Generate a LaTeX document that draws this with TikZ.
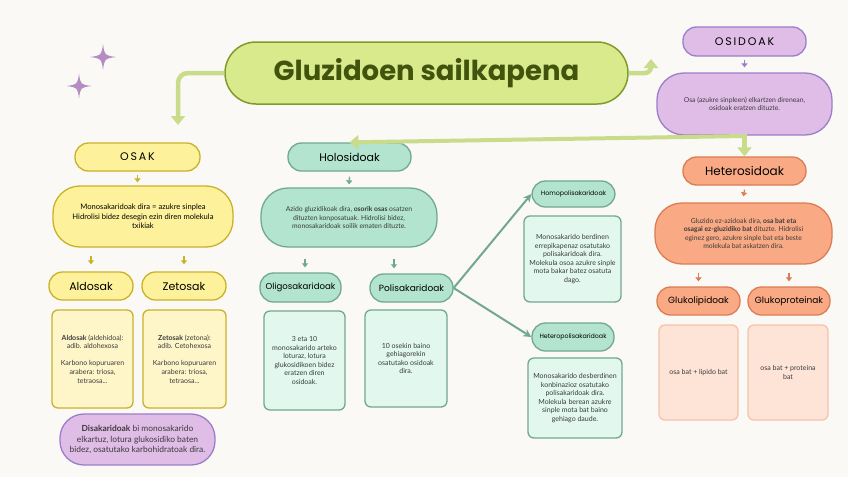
\documentclass[tikz,border=0pt]{standalone}
\usepackage{fontspec}
\setmainfont{Lato}
\newfontfamily\headfont{Poppins}
\usetikzlibrary{arrows.meta}
\definecolor{bgc}{HTML}{FAF9F5}
\definecolor{titlefill}{HTML}{D9EA8C}
\definecolor{titledraw}{HTML}{7F9B2A}
\definecolor{titletext}{HTML}{41530C}
\definecolor{garrc}{HTML}{C8DC8C}
\definecolor{lavfill}{HTML}{E0BDE6}
\definecolor{lavdraw}{HTML}{9A7ECB}
\definecolor{salfill}{HTML}{F9AA84}
\definecolor{saldraw}{HTML}{DB7C52}
\definecolor{peachfill}{HTML}{FEE4D7}
\definecolor{peachdraw}{HTML}{F6C3A8}
\definecolor{yelfill}{HTML}{FDF29B}
\definecolor{yeldraw}{HTML}{C9B12A}
\definecolor{ylboxfill}{HTML}{FEF6C9}
\definecolor{mintfill}{HTML}{B2E4D0}
\definecolor{mintdraw}{HTML}{72A793}
\definecolor{mintboxfill}{HTML}{E2F8EF}
\definecolor{starc}{HTML}{B58CC4}
\definecolor{bodytext}{HTML}{3A3A3A}
\tikzset{
  base/.style={inner sep=2pt, align=center, text=bodytext},
  pillhead/.style={base, line width=1.3pt, font=\headfont\fontsize{11}{13}\selectfont, text=black, rounded corners=13.5pt, minimum height=28pt},
  pilldesc/.style={base, line width=1.3pt, font=\fontsize{6.8}{8.5}\selectfont, rounded corners=27pt},
  boxc/.style={base, line width=1.3pt, font=\fontsize{7}{8.6}\selectfont, rounded corners=6pt},
  ypill/.style={fill=yelfill, draw=yeldraw},
  ybox/.style={fill=ylboxfill, draw=yeldraw},
  lpill/.style={fill=lavfill, draw=lavdraw},
  spill/.style={fill=salfill, draw=saldraw},
  pbox/.style={fill=peachfill, draw=peachdraw},
  mpill/.style={fill=mintfill, draw=mintdraw},
  mbox/.style={fill=mintboxfill, draw=mintdraw},
  garr/.style={draw=garrc, line width=4.5pt, -{Triangle[width=14pt,length=9pt]}},
  smallarr/.style={line width=1.3pt, -{Triangle[width=6pt,length=4pt]}},
  marr/.style={draw=mintdraw, line width=2pt, -{Stealth[width=8pt,length=8pt]}},
  sparkle/.pic={\fill[starc] (0,-1) .. controls (0.12,-0.12) .. (1,0) .. controls (0.12,0.12) .. (0,1) .. controls (-0.12,0.12) .. (-1,0) .. controls (-0.12,-0.12) .. cycle;}
}
\begin{document}
\begin{tikzpicture}[x=1pt,y=-1pt]
\fill[bgc] (0,0) rectangle (848,477);
\useasboundingbox (0,0) rectangle (848,477);

\pic[scale=13] at (103,57) {sparkle};
\pic[scale=12.5] at (79,86) {sparkle};

% title
\node[base, fill=titlefill, draw=titledraw, line width=1.5pt, rounded corners=31pt, minimum width=403pt, minimum height=62pt, font=\headfont\bfseries\fontsize{27.5}{30}\selectfont, text=titletext] (title) at (426.5,73) {Gluzidoen sailkapena};

% right column
\node[pillhead, lpill, minimum width=123pt, minimum height=29pt, font=\headfont\fontsize{11}{13}\selectfont] (osidoak) at (744.5,41.5) {O\,S\,I\,D\,O\,A\,K};
\node[pilldesc, lpill, minimum width=175pt, minimum height=62pt] (osdesc) at (744.5,104) {Osa (azukre sinpleen) elkartzen direnean,\\osidoak eratzen dituzte.};
\node[pillhead, spill, minimum width=123pt, font=\headfont\fontsize{12}{14}\selectfont] (hetero) at (744.5,171) {Heterosidoak};
\node[pilldesc, spill, minimum width=177pt, minimum height=61pt] (hetdesc) at (743.5,233.5) {Gluzido ez-azidoak dira, \textbf{osa bat eta}\\\textbf{osagai ez-gluzidiko bat} dituzte. Hidrolisi\\eginez gero, azukre sinple bat eta beste\\molekula bat askatzen dira.};
\node[pillhead, spill, minimum width=83pt, font=\headfont\fontsize{9}{11}\selectfont] (glk1) at (698.5,301) {Glukolipidoak};
\node[pillhead, spill, minimum width=82pt, font=\headfont\fontsize{9}{11}\selectfont] (glk2) at (789,301) {Glukoproteinak};
\node[boxc, pbox, minimum width=79pt, minimum height=95pt] (gbox1) at (698.5,372.5) {osa bat + lipido bat};
\node[boxc, pbox, minimum width=80pt, minimum height=95pt] (gbox2) at (788,372.5) {osa bat + proteina\\bat};

% left column
\node[pillhead, ypill, minimum width=125pt, font=\headfont\fontsize{11}{13}\selectfont] (osak) at (137.5,157) {O\,S\,A\,K};
\node[pilldesc, ypill, minimum width=180pt, minimum height=61pt, font=\fontsize{7.6}{9.4}\selectfont, text=black] (osakdesc) at (143,216.5) {Monosakaridoak dira = azukre sinplea\\Hidrolisi bidez desegin ezin diren molekula\\txikiak};
\node[pillhead, ypill, minimum width=84pt] (aldosak) at (91,286) {Aldosak};
\node[pillhead, ypill, minimum width=84pt] (zetosak) at (184,286) {Zetosak};
\node[boxc, ybox, minimum width=81pt, minimum height=98pt] (abox) at (92.5,359) {\textbf{Aldosak} (aldehidoa):\\adib. aldohexosa\\[8.6pt]Karbono kopuruaren\\arabera: triosa,\\tetraosa...};
\node[boxc, ybox, minimum width=83pt, minimum height=98pt] (zbox) at (184.5,359) {\textbf{Zetosak} (zetona):\\adib. Cetohexosa\\[8.6pt]Karbono kopuruaren\\arabera: triosa,\\tetraosa...};
\node[pilldesc, lpill, minimum width=155pt, minimum height=51pt, rounded corners=24pt, font=\fontsize{8.4}{10.2}\selectfont] (disak) at (137.5,439.5) {\textbf{Disakaridoak} bi monosakarido\\elkartuz, lotura glukosidiko baten\\bidez, osatutako karbohidratoak dira.};

% middle column
\node[pillhead, mpill, minimum width=123pt, font=\headfont\fontsize{11}{13}\selectfont] (holo) at (349.5,157) {Holosidoak};
\node[pilldesc, mpill, minimum width=176pt, minimum height=59pt] (holodesc) at (349,217.5) {Azido gluzidikoak dira, \textbf{osorik osas} osatzen\\dituzten konposatuak. Hidrolisi bidez,\\monosakaridoak soilik ematen dituzte.};
\node[pillhead, mpill, minimum width=81pt, minimum height=29pt, font=\headfont\fontsize{8.6}{10}\selectfont] (oligo) at (300.5,287.5) {Oligosakaridoak};
\node[pillhead, mpill, minimum width=83pt, font=\headfont\fontsize{9}{11}\selectfont] (poli) at (411.5,288) {Polisakaridoak};
\node[boxc, mbox, minimum width=81pt, minimum height=99pt] (obox) at (304.5,360.5) {3 eta 10\\monosakarido arteko\\loturaz, lotura\\glukosidikoen bidez\\eratzen diren\\osidoak.};
\node[boxc, mbox, minimum width=82pt, minimum height=97pt] (pbox) at (406,358.5) {10 osekin baino\\gehiagorekin\\osatutako osidoak\\dira.};
\node[pillhead, mpill, minimum width=83pt, minimum height=26pt, font=\headfont\fontsize{6.3}{8}\selectfont] (homo) at (573.5,194) {Homopolisakaridoak};
\node[boxc, mbox, minimum width=97pt, minimum height=86pt] (homobox) at (572.5,259) {Monosakarido berdinen\\errepikapenaz osatutako\\polisakaridoak dira.\\Molekula osoa azukre sinple\\mota bakar batez osatuta\\dago.};
\node[pillhead, mpill, minimum width=82pt, font=\headfont\fontsize{6.3}{8}\selectfont] (hetp) at (573,337) {Heteropolisakaridoak};
\node[boxc, mbox, minimum width=94pt, minimum height=80pt] (hetpbox) at (575,398) {Monosakarido desberdinen\\konbinazioz osatutako\\polisakaridoak dira.\\Molekula berean azukre\\sinple mota bat baino\\gehiago daude.};

% big green connectors
\coordinate (osakin) at (178,125);
\coordinate (upend) at (651,59);
\coordinate (J) at (745,136);
\draw[garr, rounded corners=10pt] (title.west) -| (osakin);
\draw[garr, rounded corners=6pt] (title.east) -| (upend);
\draw[garr, line width=4pt] (J) -- (holo.north);
\draw[garr, shorten <=-2pt] (osdesc.south) -- (hetero.north);

% small arrows
\draw[smallarr, draw=lavdraw] (osidoak.south) ++(0,-3pt) -- ([yshift=5pt]osdesc.north);
\draw[smallarr, draw=saldraw] ([yshift=-4pt]hetero.south) -- ([yshift=6pt]hetdesc.north);
\draw[smallarr, draw=saldraw] ([yshift=-8pt]hetdesc.south -| glk1.north) -- ([yshift=5pt]glk1.north);
\draw[smallarr, draw=saldraw] ([yshift=-8pt]hetdesc.south -| glk2.north) -- ([yshift=5pt]glk2.north);
\draw[smallarr, draw=yeldraw] ([yshift=-3pt]osak.south) -- ([yshift=3pt]osakdesc.north -| osak.south);
\draw[smallarr, draw=yeldraw] ([yshift=-8pt]osakdesc.south -| aldosak.north) -- ([yshift=7pt]aldosak.north);
\draw[smallarr, draw=yeldraw] ([yshift=-8pt]osakdesc.south -| zetosak.north) -- ([yshift=7pt]zetosak.north);
\draw[smallarr, draw=mintdraw] ([yshift=-5pt]holo.south) -- ([yshift=3pt]holodesc.north);
\draw[smallarr, draw=mintdraw] ([yshift=-11pt]holodesc.south -| 305,0) -- ([yshift=5pt]oligo.north -| 305,0);
\draw[smallarr, draw=mintdraw] ([yshift=-11pt]holodesc.south -| 394,0) -- ([yshift=5pt]poli.north -| 394,0);

% mint connectors
\draw[marr] (poli.east) -- (homo.west);
\draw[marr] (poli.east) -- (hetp.west);
\end{tikzpicture}
\end{document}
